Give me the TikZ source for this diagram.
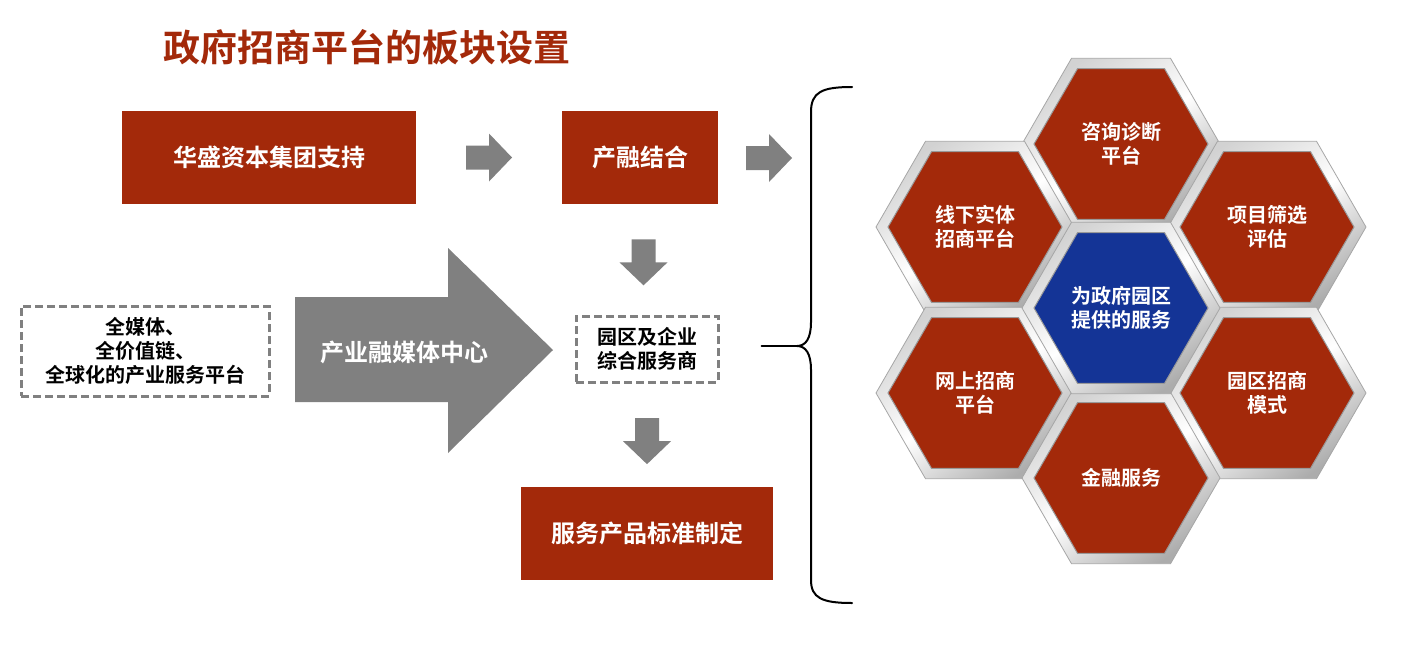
\documentclass[tikz,border=0pt]{standalone}
\usepackage{fontspec}
\setmainfont{Noto Sans CJK SC}[BoldFont={Noto Sans CJK SC Bold}]
\usepackage{tikz}
\usetikzlibrary{calc,shapes.geometric}

\definecolor{boxred}{RGB}{163,41,10}
\definecolor{hexblue}{RGB}{20,52,150}
\definecolor{arrowgray}{RGB}{128,128,128}

\tikzset{
    pics/blockarrow/.style={code={
        \fill[arrowgray] (-23,-12) -- (0,-12) -- (0,-24) -- (23,0) -- (0,24) -- (0,12) -- (-23,12) -- cycle;
    }},
}

\begin{document}
\begin{tikzpicture}[x=1pt, y=-1pt,
    redbox/.style={fill=boxred, text=white, font=\fontsize{24}{28}\selectfont\bfseries, inner sep=0pt},
    dashbox/.style={draw=arrowgray, dash pattern=on 8pt off 4pt, line width=3pt, align=center,
        font=\fontsize{20}{24}\selectfont\bfseries, inner sep=0pt},
    hexframe/.style={regular polygon, regular polygon sides=6, minimum size=198pt, inner sep=0pt,
        top color=gray!35, bottom color=gray!65, middle color=white, shading angle=35,
        draw=gray!70, line width=0.8pt},
    hexcell/.style={regular polygon, regular polygon sides=6, minimum size=174pt, inner sep=0pt,
        fill=boxred, draw=gray!80, line width=1pt, text=white, align=center,
        font=\fontsize{20}{24}\selectfont\bfseries},
    brace/.style={line width=2pt, line cap=round}]

    \useasboundingbox (0,0) rectangle (1402,651);

    \node[anchor=west, text=boxred, font=\fontsize{37}{40}\selectfont\bfseries] (title) at (160,47) {政府招商平台的板块设置};

    \node[redbox, minimum width=294pt, minimum height=93pt] (support) at (269,157.5) {华盛资本集团支持};
    \node[redbox, minimum width=156pt, minimum height=93pt] (fusion) at (640,157.5) {产融结合};
    \node[dashbox, minimum width=142pt, minimum height=66pt] (services) at (647,349) {园区及企业\\综合服务商};
    \node[redbox, minimum width=252pt, minimum height=93pt] (standard) at (647,533.5) {服务产品标准制定};
    \node[dashbox, minimum width=248pt, minimum height=90pt] (platform) at (145,351) {全媒体、\\全价值链、\\全球化的产业服务平台};

    \pic at ($(support.east)!0.5!(fusion.west)$) {blockarrow};
    \pic at (769,158) {blockarrow};
    \pic[rotate=-90] at ($(fusion.south)!0.5!(services.north)+(0,3)$) {blockarrow};
    \pic[rotate=-90] at ($(services.south)!0.5!(standard.north)+(0,6)$) {blockarrow};

    \fill[arrowgray] (295,297) -- (448,297) -- (448,248) -- (553,350) -- (448,453) -- (448,402) -- (295,402) -- cycle;
    \node[text=white, font=\fontsize{24}{28}\selectfont\bfseries] (media) at (404,352) {产业融媒体中心};

    \coordinate (braceTip) at (797,346);
    \draw[brace] ($(services.east)+(42,-3)$) -- (braceTip);
    \draw[brace] (852,87) .. controls (822,87) and (811,92) .. (811,112) -- (811,322)
        .. controls (811,338) and (806,346) .. (braceTip)
        .. controls (806,346) and (811,354) .. (811,370) -- (811,580)
        .. controls (811,598) and (822,603) .. (852,603);

    \coordinate (cTop) at (1121,144);
    \coordinate (cUL) at (975,227);
    \coordinate (cUR) at (1267,227);
    \coordinate (cMid) at (1121,308);
    \coordinate (cLL) at (975,393);
    \coordinate (cLR) at (1267,393);
    \coordinate (cBot) at (1121,478);

    \node[hexframe] at (cTop) {};
    \node[hexframe] at (cUL) {};
    \node[hexframe] at (cUR) {};
    \node[hexframe] at (cLL) {};
    \node[hexframe] at (cLR) {};
    \node[hexframe] at (cBot) {};
    \node[hexframe] at (cMid) {};

    \node[hexcell] (consult) at (cTop) {咨询诊断\\平台};
    \node[hexcell] (offline) at (cUL) {线下实体\\招商平台};
    \node[hexcell] (screen) at (cUR) {项目筛选\\评估};
    \node[hexcell, fill=hexblue] (govservice) at (cMid) {为政府园区\\提供的服务};
    \node[hexcell] (online) at (cLL) {网上招商\\平台};
    \node[hexcell] (parkmode) at (cLR) {园区招商\\模式};
    \node[hexcell] (finance) at (cBot) {金融服务};

\end{tikzpicture}
\end{document}
